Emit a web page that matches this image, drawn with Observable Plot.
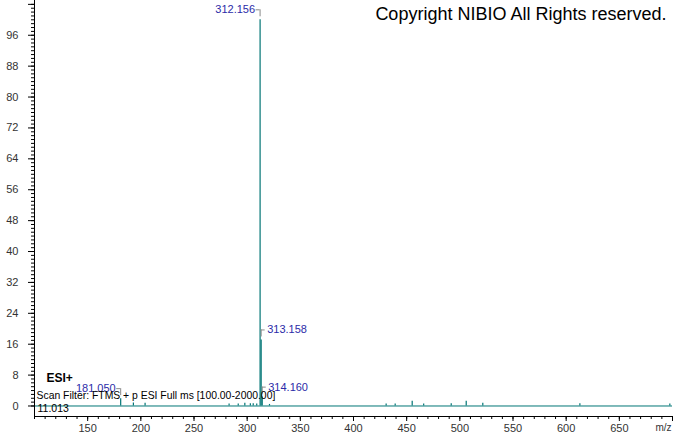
<!DOCTYPE html>
<html><head><meta charset="utf-8">
<script src="https://cdn.jsdelivr.net/npm/d3@7"></script>
<script src="https://cdn.jsdelivr.net/npm/@observablehq/plot@0.6"></script>
<style>html,body{margin:0;padding:0;background:#fff;overflow:hidden}</style>
</head><body><div id="chart"></div>
<script>
// spectrum peaks (m/z, relative abundance %)
const peakMz = [181.050, 193.0, 204.0, 283.0, 291.6, 297.8, 303.0, 305.7, 309.0, 312.156, 313.158, 314.160, 321.0,
  430.7, 439.2, 455.2, 466.0, 491.9, 506.0, 521.6, 612.9, 697.5];
const peakIntensity = [1.9, 0.8, 0.7, 0.5, 0.5, 0.7, 0.6, 0.6, 0.5, 100, 17.1, 2.3, 0.4,
  0.5, 0.5, 1.2, 0.5, 0.6, 1.2, 0.7, 0.6, 0.5];
// labelled peaks
const labelMz = [312.156, 313.158, 314.160, 181.050];
const labelIntensity = [100, 17.1, 2.3, 1.9];
const labelSide = ["left", "right", "right", "left"];
// axes
const xMajorTicks = [150, 200, 250, 300, 350, 400, 450, 500, 550, 600, 650, 700];
const xMinorTicks = d3.range(100, 701, 10);
const yMajorTicks = [0, 8, 16, 24, 32, 40, 48, 56, 64, 72, 80, 88, 96, 104];
const yLabelTicks = [0, 8, 16, 24, 32, 40, 48, 56, 64, 72, 80, 88, 96];
const yMinorTicks = d3.range(0, 105, 1);
const texts = {
  ion: "ESI+",
  filter: "Scan Filter: FTMS + p ESI Full ms [100.00-2000.00]",
  rt: "11.013",
  copyright: "Copyright NIBIO All Rights reserved.",
  xLabel: "m/z"
};

const peaks = peakMz.map((mz, i) => ({mz, intensity: peakIntensity[i]}));
const labels = labelMz.map((mz, i) => ({mz, intensity: labelIntensity[i], text: mz.toFixed(3), side: labelSide[i]}));
const L = labels.filter(d => d.side === "left");
const R = labels.filter(d => d.side === "right");

const teal = "#007575";
const blue = "#2b2ba8";
const gray = "#8a8a8a";
const yMin = -2.72, yMax = 105;

const chart = Plot.plot({
  width: 674,
  height: 434,
  marginLeft: 34,
  marginRight: 2,
  marginTop: 0,
  marginBottom: 18,
  style: {fontFamily: "'Liberation Sans', Arial, sans-serif", fontSize: "11px", background: "#fff", overflow: "visible"},
  x: {domain: [100, 700], axis: null},
  y: {domain: [yMin, yMax], axis: null},
  marks: [
    // baseline trace
    Plot.ruleY([0], {stroke: teal, strokeWidth: 1}),
    Plot.ruleX(peaks, {x: "mz", y1: 0, y2: "intensity", stroke: teal, strokeWidth: 1.2}),
    // axis lines
    Plot.ruleX([100], {stroke: "#000"}),
    Plot.ruleY([yMin], {stroke: "#000"}),
    // x axis ticks
    Plot.axisX({ticks: xMinorTicks, tickSize: 3, text: null, label: null, stroke: "#000"}),
    Plot.axisX({ticks: xMajorTicks, tickSize: 5, label: null, tickFormat: d => d === 700 ? "" : String(d), tickPadding: 3, stroke: "#000", fill: "#333", fontSize: 11}),
    // y axis ticks
    Plot.axisY({ticks: yMinorTicks, tickSize: 3, text: null, label: null, stroke: "#000"}),
    Plot.axisY({ticks: yMajorTicks, tickSize: 6, text: null, label: null, stroke: "#000"}),
    Plot.axisY({ticks: yLabelTicks, tickSize: 0, tickPadding: 16, label: null, stroke: "#000", fill: "#333", fontSize: 11}),
    // peak label brackets
    Plot.ruleX(labels, {x: "mz", y1: "intensity", y2: "intensity", insetTop: -10, insetBottom: 3, stroke: gray}),
    Plot.ruleY(L, {y: "intensity", x1: "mz", x2: "mz", insetLeft: -4, dy: -10, stroke: gray}),
    Plot.ruleY(R, {y: "intensity", x1: "mz", x2: "mz", insetRight: -4, dy: -10, stroke: gray}),
    Plot.text(L, {x: "mz", y: "intensity", text: "text", textAnchor: "end", dx: -5, dy: -10, fill: blue, fontSize: 11}),
    Plot.text(R, {x: "mz", y: "intensity", text: "text", textAnchor: "start", dx: 6, dy: -10, fill: blue, fontSize: 11}),
    // annotations
    Plot.text([texts.ion], {frameAnchor: "top-left", lineAnchor: "middle", dx: 12, dy: 378, textAnchor: "start", fontWeight: "bold", fontSize: 12, fill: "#000"}),
    Plot.text([texts.filter], {frameAnchor: "top-left", lineAnchor: "middle", dx: 2, dy: 395, textAnchor: "start", fontSize: 10.4, fill: "#000"}),
    Plot.text([texts.rt], {frameAnchor: "top-left", lineAnchor: "middle", dx: 3, dy: 408, textAnchor: "start", fontSize: 10.5, fill: "#000"}),
    Plot.text([texts.copyright], {frameAnchor: "top-right", lineAnchor: "middle", dx: -6, dy: 14, textAnchor: "end", fontSize: 18, fill: "#000"}),
    Plot.text([texts.xLabel], {frameAnchor: "bottom-right", lineAnchor: "middle", dx: -1, dy: 11, textAnchor: "end", fontSize: 10, fill: "#333"})
  ]
});
document.getElementById("chart").appendChild(chart);
</script>
</body></html>
